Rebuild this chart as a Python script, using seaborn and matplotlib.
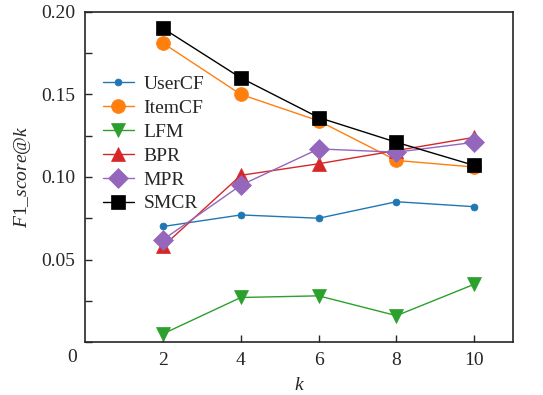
import seaborn as sns
import pandas as pd
from matplotlib import pyplot as plt
from matplotlib.ticker import MultipleLocator

k_values = [2, 4, 6, 8, 10]
user_cf = [0.070, 0.077, 0.075, 0.085, 0.082]
item_cf = [0.181, 0.150, 0.134, 0.110, 0.106]
lfm = [0.005, 0.027, 0.028, 0.016, 0.035]
bpr = [0.058, 0.101, 0.108, 0.116, 0.124]
mpr = [0.062, 0.095, 0.117, 0.115, 0.121]
smcr = [0.190, 0.160, 0.136, 0.121, 0.107]

series = [
    ("UserCF", user_cf, "#1f77b4", "o", 5),
    ("ItemCF", item_cf, "#ff7f0e", "o", 10),
    ("LFM", lfm, "#2ca02c", "v", 10),
    ("BPR", bpr, "#d62728", "^", 10),
    ("MPR", mpr, "#9467bd", "D", 10),
    ("SMCR", smcr, "#000000", "s", 10),
]

sns.set_theme(style="ticks")
plt.rcParams["font.family"] = ["Liberation Serif", "DejaVu Serif"]
plt.rcParams["mathtext.fontset"] = "custom"
plt.rcParams["mathtext.it"] = "Liberation Serif:italic"
plt.rcParams["mathtext.rm"] = "Liberation Serif"

fig = plt.figure(figsize=(5.43, 3.95), dpi=100)
ax = fig.add_axes([0.157, 0.134, 0.788, 0.836])

for name, vals, color, marker, ms in series:
    df = pd.DataFrame({"k": k_values, "score": vals})
    sns.lineplot(data=df, x="k", y="score", ax=ax, color=color, marker=marker,
                 markersize=ms, markeredgewidth=0.5, markeredgecolor=color,
                 linewidth=1.0, label=name)

ax.set_xlim(0, 11)
ax.set_ylim(0, 0.2)
ax.set_xticks([2, 4, 6, 8, 10])
ax.set_yticks([0.05, 0.10, 0.15, 0.20])
ax.set_yticklabels(["0.05", "0.10", "0.15", "0.20"])
ax.yaxis.set_minor_locator(MultipleLocator(0.025))
ax.tick_params(direction="in", labelsize=14, length=5, width=1, pad=7)
ax.tick_params(which="minor", direction="in", length=5, width=1)
for s in ax.spines.values():
    s.set_linewidth(1.2)

ax.set_xlabel(r"$k$", fontsize=14, labelpad=6)
ax.set_ylabel(r"$F1\_score@k$", fontsize=14, labelpad=6)
fig.text(72 / 543, 1 - 358 / 395, "0", fontsize=14, ha="center", va="center")

ax.legend(loc="upper left", bbox_to_anchor=(0.0, 0.86), frameon=False,
          fontsize=14, handlelength=1.6, handletextpad=0.5,
          labelspacing=0.32, borderaxespad=0.5)

fig.savefig("out.png", dpi=100)
